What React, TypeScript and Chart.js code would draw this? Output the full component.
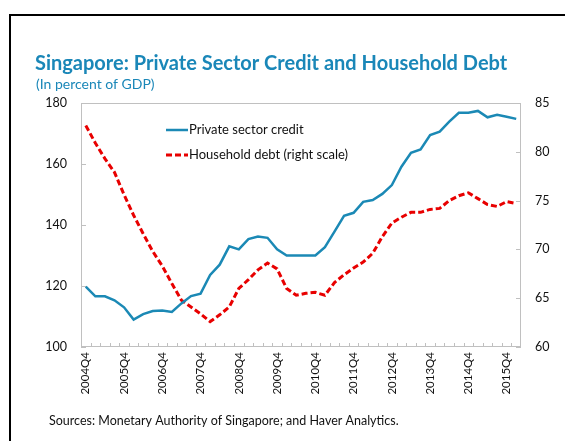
import React, { useEffect, useRef } from "react";
import { Chart, registerables } from "chart.js";

Chart.register(...registerables);

const quarters = [
  "2004Q4",
  "2005Q1", "2005Q2", "2005Q3", "2005Q4",
  "2006Q1", "2006Q2", "2006Q3", "2006Q4",
  "2007Q1", "2007Q2", "2007Q3", "2007Q4",
  "2008Q1", "2008Q2", "2008Q3", "2008Q4",
  "2009Q1", "2009Q2", "2009Q3", "2009Q4",
  "2010Q1", "2010Q2", "2010Q3", "2010Q4",
  "2011Q1", "2011Q2", "2011Q3", "2011Q4",
  "2012Q1", "2012Q2", "2012Q3", "2012Q4",
  "2013Q1", "2013Q2", "2013Q3", "2013Q4",
  "2014Q1", "2014Q2", "2014Q3", "2014Q4",
  "2015Q1", "2015Q2", "2015Q3", "2015Q4",
  "2016Q1",
];

const xTickLabels = [
  "2004Q4", "2005Q4", "2006Q4", "2007Q4", "2008Q4", "2009Q4",
  "2010Q4", "2011Q4", "2012Q4", "2013Q4", "2014Q4", "2015Q4",
];

// Private sector credit, percent of GDP (left scale)
const privateCredit = [
  119.8,
  116.6, 116.6, 115.3, 113.0,
  109.0, 110.8, 111.8, 112.0,
  111.5, 114.3, 116.7, 117.5,
  123.6, 127.0, 133.0, 132.0,
  135.4, 136.2, 135.8, 132.0,
  130.0, 130.0, 130.0, 130.0,
  132.7, 137.8, 143.0, 144.0,
  147.6, 148.2, 150.2, 153.1,
  159.1, 163.7, 164.8, 169.5,
  170.6, 173.9, 176.8, 176.8,
  177.4, 175.3, 176.1, 175.5,
  174.8,
];

// Household debt, percent of GDP (right scale)
const householdDebt = [
  82.7,
  80.9, 79.3, 77.9, 75.6,
  73.5, 71.6, 69.8, 68.3,
  66.5, 64.8, 64.1, 63.4,
  62.6, 63.3, 64.1, 66.0,
  66.9, 67.9, 68.6, 68.0,
  66.0, 65.3, 65.5, 65.6,
  65.3, 66.6, 67.4, 68.1,
  68.7, 69.6, 71.3, 72.7,
  73.3, 73.8, 73.8, 74.1,
  74.2, 75.0, 75.5, 75.8,
  75.2, 74.6, 74.4, 74.9,
  74.7,
];

const leftTicks = [100, 120, 140, 160, 180];
const rightTicks = [60, 65, 70, 75, 80, 85];

const seriesNames = ["Private sector credit", "Household debt (right scale)"];
const titleText = "Singapore: Private Sector Credit and Household Debt";
const subtitleText = "(In percent of GDP)";
const sourceText = "Sources: Monetary Authority of Singapore; and Haver Analytics.";

const FONT = "Lato, 'Open Sans', sans-serif";
const BLUE = "#1b89b5";
const RED = "#e80000";
const TEAL = "#1a87b8";
const AXIS = "#c0c0c0";

const decorPlugin = {
  id: "decor",
  beforeDraw(chart: any) {
    const ctx = chart.ctx as CanvasRenderingContext2D;
    ctx.save();
    ctx.fillStyle = "#ffffff";
    ctx.fillRect(0, 0, chart.width, chart.height);
    // outer frame
    ctx.strokeStyle = "#000000";
    ctx.lineWidth = 2;
    ctx.beginPath();
    ctx.moveTo(10, chart.height + 2);
    ctx.lineTo(10, 15);
    ctx.lineTo(chart.width + 2, 15);
    ctx.stroke();
    // title
    ctx.fillStyle = TEAL;
    ctx.textAlign = "left";
    ctx.textBaseline = "alphabetic";
    ctx.font = `bold 20px ${FONT}`;
    ctx.fillText(titleText, 35, 70);
    ctx.font = `14px ${FONT}`;
    ctx.fillText(subtitleText, 36, 89);
    // source
    ctx.fillStyle = "#111111";
    ctx.font = `12.5px ${FONT}`;
    ctx.fillText(sourceText, 49, 425);
    ctx.restore();
  },
  beforeDatasetsDraw(chart: any) {
    const ctx = chart.ctx as CanvasRenderingContext2D;
    const { left, right, top, bottom } = chart.chartArea;
    ctx.save();
    ctx.strokeStyle = AXIS;
    ctx.lineWidth = 1;
    ctx.strokeRect(left + 0.5, top + 0.5, right - left - 1, bottom - top - 1);
    // inward ticks on y axes
    const y = chart.scales.y;
    const y1 = chart.scales.y1;
    ctx.beginPath();
    leftTicks.forEach((v) => {
      const p = Math.round(y.getPixelForValue(v)) + 0.5;
      ctx.moveTo(left, p);
      ctx.lineTo(left + 5, p);
    });
    rightTicks.forEach((v) => {
      const p = Math.round(y1.getPixelForValue(v)) + 0.5;
      ctx.moveTo(right - 5, p);
      ctx.lineTo(right, p);
    });
    // category boundary ticks on x axis
    const n = quarters.length;
    const band = (right - left) / n;
    for (let i = 1; i < n; i++) {
      const p = Math.round(left + band * i) + 0.5;
      ctx.moveTo(p, bottom);
      ctx.lineTo(p, bottom - 4);
    }
    ctx.stroke();
    ctx.restore();
  },
  afterDraw(chart: any) {
    const ctx = chart.ctx as CanvasRenderingContext2D;
    ctx.save();
    const items = [
      { y: 130, color: BLUE, dash: [] as number[], width: 2.5, text: seriesNames[0] },
      { y: 155, color: RED, dash: [6, 3], width: 3, text: seriesNames[1] },
    ];
    items.forEach((it) => {
      ctx.strokeStyle = it.color;
      ctx.lineWidth = it.width;
      ctx.setLineDash(it.dash);
      ctx.beginPath();
      ctx.moveTo(166, it.y);
      ctx.lineTo(188, it.y);
      ctx.stroke();
      ctx.setLineDash([]);
      ctx.fillStyle = "#111111";
      ctx.font = `13px ${FONT}`;
      ctx.textAlign = "left";
      ctx.textBaseline = "middle";
      ctx.fillText(it.text, 189, it.y);
    });
    ctx.restore();
  },
};

export default function App() {
  const ref = useRef<HTMLCanvasElement | null>(null);
  useEffect(() => {
    if (!ref.current) return;
    const chart = new Chart(ref.current, {
      type: "line",
      data: {
        labels: quarters,
        datasets: [
          {
            label: seriesNames[0],
            data: privateCredit,
            yAxisID: "y",
            borderColor: BLUE,
            backgroundColor: BLUE,
            borderWidth: 2.5,
            pointRadius: 0,
            tension: 0,
          },
          {
            label: seriesNames[1],
            data: householdDebt,
            yAxisID: "y1",
            borderColor: RED,
            backgroundColor: RED,
            borderWidth: 3,
            borderDash: [6, 3],
            pointRadius: 0,
            tension: 0,
          },
        ],
      },
      options: {
        responsive: false,
        animation: false,
        devicePixelRatio: 1,
        layout: { padding: { top: 103, left: 0, right: 0, bottom: 0 } },
        plugins: {
          legend: { display: false },
          title: { display: false },
          tooltip: { enabled: false },
        },
        scales: {
          x: {
            type: "category",
            offset: true,
            grid: { display: false, drawTicks: false },
            border: { display: false },
            ticks: {
              autoSkip: false,
              maxRotation: 90,
              minRotation: 90,
              padding: 5,
              color: "#111111",
              font: { family: FONT, size: 11.5 },
              callback: (_v: any, i: number) =>
                xTickLabels.includes(quarters[i]) ? quarters[i] : "",
            },
            afterFit: (s: any) => {
              s.height = 94;
            },
          },
          y: {
            position: "left",
            min: 100,
            max: 180,
            grid: { display: false, drawTicks: false },
            border: { display: false },
            ticks: {
              stepSize: 20,
              padding: 14,
              color: "#111111",
              font: { family: FONT, size: 12.5 },
            },
            afterFit: (s: any) => {
              s.width = 81;
            },
          },
          y1: {
            position: "right",
            min: 60,
            max: 85,
            grid: { display: false, drawTicks: false },
            border: { display: false },
            ticks: {
              stepSize: 5,
              padding: 14,
              color: "#111111",
              font: { family: FONT, size: 12.5 },
            },
            afterFit: (s: any) => {
              s.width = 44;
            },
          },
        },
      },
      plugins: [decorPlugin],
    });
    return () => chart.destroy();
  }, []);
  return (
    <div style={{ position: "absolute", left: 0, top: 0, width: 565, height: 441 }}>
      <canvas ref={ref} width={565} height={441} style={{ display: "block" }} />
    </div>
  );
}
